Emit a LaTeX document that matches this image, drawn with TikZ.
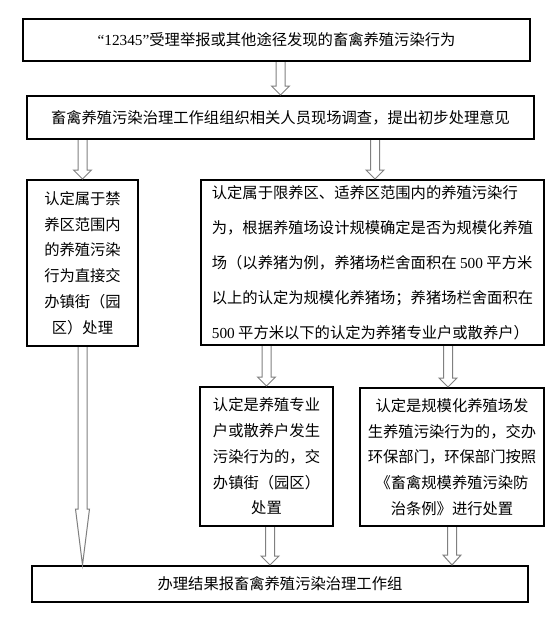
\documentclass[tikz,border=0pt]{standalone}
\usepackage{fontspec}
\setmainfont{Noto Sans CJK SC}
\newfontfamily\latinfont{Liberation Serif}
\usetikzlibrary{calc}

\tikzset{
  box/.style={draw, line width=2pt, inner sep=0pt, align=center,
    font=\fontsize{15.3}{25.7}\selectfont},
  hollow/.style={draw=gray, line width=1pt, line join=miter},
}

% vertical hollow arrow: start, target anchor, head length, head half width
\newcommand{\hollowarrow}[4]{%
  \coordinate (ha-s) at (#1);
  \coordinate (ha-e) at (#2 -| ha-s);
  \draw[hollow] ($(ha-s)+(-4.5,0)$) -- ($(ha-e)+(-4.5,-#3)$) -- ($(ha-e)+(-#4,-#3)$)
    -- (ha-e) -- ($(ha-e)+(#4,-#3)$) -- ($(ha-e)+(4.5,-#3)$) -- ($(ha-s)+(4.5,0)$);
}

\begin{document}
\begin{tikzpicture}[x=1pt, y=-1pt]
    \useasboundingbox (0,0) rectangle (555,622);

    % top row
    \node[box, minimum width=507pt, minimum height=42pt] (report) at (276.5,40)
        {{\latinfont “12345”}受理举报或其他途径发现的畜禽养殖污染行为};
    \node[box, minimum width=507pt, minimum height=43pt] (survey) at (280.5,117.5)
        {畜禽养殖污染治理工作组组织相关人员现场调查，提出初步处理意见};

    % two zones
    \node[box, minimum width=111pt, minimum height=166pt] (ban) at (82.5,263)
        {认定属于禁\\养区范围内\\的养殖污染\\行为直接交\\办镇街（园\\区）处理};
    \node[box, minimum width=343pt, minimum height=165pt, align=left,
        font=\fontsize{15.3}{35}\selectfont] (limit) at (372.5,262.5)
        {认定属于限养区、适养区范围内的养殖污染行\\
         为，根据养殖场设计规模确定是否为规模化养殖\\
         场（以养猪为例，养猪场栏舍面积在 {\latinfont 500} 平方米\\
         以上的认定为规模化养猪场；养猪场栏舍面积在\\
         {\latinfont 500} 平方米以下的认定为养猪专业户或散养户）};

    % handling
    \node[box, minimum width=133pt, minimum height=139pt] (household) at (266.5,456.5)
        {认定是养殖专业\\户或散养户发生\\污染行为的，交\\办镇街（园区）\\处置};
    \node[box, minimum width=184pt, minimum height=138pt] (largefarm) at (452,457)
        {认定是规模化养殖场发\\生养殖污染行为的，交办\\环保部门，环保部门按照\\《畜禽规模养殖污染防\\治条例》进行处置};

    % result
    \node[box, minimum width=496pt, minimum height=36pt] (result) at (280,584)
        {办理结果报畜禽养殖污染治理工作组};

    % arrows
    \hollowarrow{report.south -| survey.north}{survey.north}{9}{9}
    \hollowarrow{survey.south -| ban.north}{ban.north}{9}{9}
    \hollowarrow{$(survey.south -| limit.north)+(2.5,0)$}{limit.north}{9}{9}
    \hollowarrow{limit.south -| household.north}{household.north}{9}{9}
    \hollowarrow{$(limit.south -| largefarm.north)+(-4,0)$}{largefarm.north}{9}{9}
    \hollowarrow{ban.south}{result.north}{56}{7}
    \hollowarrow{$(household.south)+(3.5,0)$}{result.north}{9}{9}
    \hollowarrow{largefarm.south}{result.north}{10}{9}
\end{tikzpicture}
\end{document}
